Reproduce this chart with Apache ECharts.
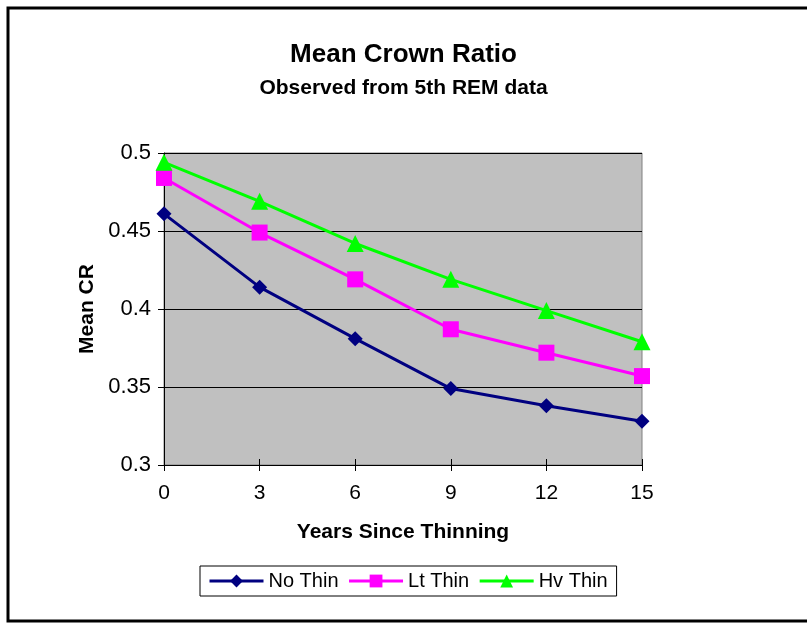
<!DOCTYPE html>
<html>
<head>
<meta charset="utf-8">
<script src="https://cdn.jsdelivr.net/npm/echarts@6/dist/echarts.min.js"></script>
<style>
  html, body { margin: 0; padding: 0; background: #ffffff; }
  #chart { width: 807px; height: 625px; }
</style>
</head>
<body>
<div id="chart"></div>
<script>
// Years since thinning (x positions)
const years = [0, 3, 6, 9, 12, 15];
// Mean crown ratio by treatment
const noThin = [0.461, 0.414, 0.381, 0.349, 0.338, 0.328];
const ltThin = [0.484, 0.449, 0.419, 0.387, 0.372, 0.357];
const hvThin = [0.494, 0.469, 0.442, 0.419, 0.399, 0.379];
const seriesNames = ['No Thin', 'Lt Thin', 'Hv Thin'];

const FONT = 'Liberation Sans, Arial, sans-serif';

function pairs(vals) {
  return years.map((x, i) => [x, vals[i]]);
}

const chart = echarts.init(document.getElementById('chart'), null, { renderer: 'canvas' });

chart.setOption({
  animation: false,
  backgroundColor: '#ffffff',
  textStyle: { fontFamily: FONT },
  graphic: [{
    type: 'rect',
    shape: { x: 8, y: 8, width: 900, height: 613 },
    style: { fill: 'none', stroke: '#000000', lineWidth: 3 },
    silent: true,
    z: 100
  }],
  title: [{
    text: 'Mean Crown Ratio',
    left: 'center',
    top: 37,
    textStyle: { fontFamily: FONT, fontSize: 26, fontWeight: 'bold', color: '#000000' }
  }, {
    text: 'Observed from 5th REM data',
    left: 'center',
    top: 73,
    textStyle: { fontFamily: FONT, fontSize: 21, fontWeight: 'bold', color: '#000000' }
  }],
  legend: {
    left: 200,
    top: 566,
    orient: 'horizontal',
    itemWidth: 54,
    itemHeight: 16,
    itemGap: 9,
    padding: [5, 9, 5, 8],
    borderColor: '#000000',
    borderWidth: 1,
    backgroundColor: '#ffffff',
    data: seriesNames,
    lineStyle: { width: 3 },
    textStyle: { fontFamily: FONT, fontSize: 20, color: '#000000' }
  },
  grid: {
    left: 164,
    right: 165,
    top: 153,
    bottom: 160,
    show: true,
    backgroundColor: '#C0C0C0',
    borderColor: '#808080',
    borderWidth: 1
  },
  xAxis: [{
    type: 'value',
    min: 0,
    max: 15,
    interval: 3,
    name: 'Years Since Thinning',
    nameLocation: 'middle',
    nameGap: 57,
    nameTextStyle: { fontFamily: FONT, fontSize: 21, fontWeight: 'bold', color: '#000000' },
    axisLine: { show: true, lineStyle: { color: '#000000', width: 1 } },
    axisTick: { show: true, inside: false, length: 6, lineStyle: { color: '#000000' } },
    axisLabel: { fontFamily: FONT, fontSize: 21, color: '#000000', margin: 18 },
    splitLine: { show: false }
  }, {
    type: 'value',
    position: 'bottom',
    min: 0,
    max: 15,
    interval: 3,
    axisLine: { show: false },
    axisTick: { show: true, inside: true, length: 6, lineStyle: { color: '#000000' } },
    axisLabel: { show: false },
    splitLine: { show: false }
  }],
  yAxis: {
    type: 'value',
    min: 0.3,
    max: 0.5,
    interval: 0.05,
    name: 'Mean CR',
    nameLocation: 'middle',
    nameGap: 66,
    nameRotate: 90,
    nameTextStyle: { fontFamily: FONT, fontSize: 21, fontWeight: 'bold', color: '#000000' },
    axisLine: { show: true, lineStyle: { color: '#000000', width: 1 } },
    axisTick: { show: true, length: 6, lineStyle: { color: '#000000' } },
    axisLabel: { fontFamily: FONT, fontSize: 22, color: '#000000', margin: 13 },
    splitLine: { show: true, lineStyle: { color: '#000000', width: 1 } }
  },
  series: [{
    name: seriesNames[0],
    type: 'line',
    data: pairs(noThin),
    symbol: 'diamond',
    symbolSize: 15,
    lineStyle: { color: '#000080', width: 3 },
    itemStyle: { color: '#000080' }
  }, {
    name: seriesNames[1],
    type: 'line',
    data: pairs(ltThin),
    symbol: 'rect',
    symbolSize: 16,
    lineStyle: { color: '#FF00FF', width: 3 },
    itemStyle: { color: '#FF00FF' }
  }, {
    name: seriesNames[2],
    type: 'line',
    data: pairs(hvThin),
    symbol: 'triangle',
    symbolSize: 17,
    lineStyle: { color: '#00FF00', width: 3 },
    itemStyle: { color: '#00FF00' }
  }]
});
</script>
</body>
</html>
